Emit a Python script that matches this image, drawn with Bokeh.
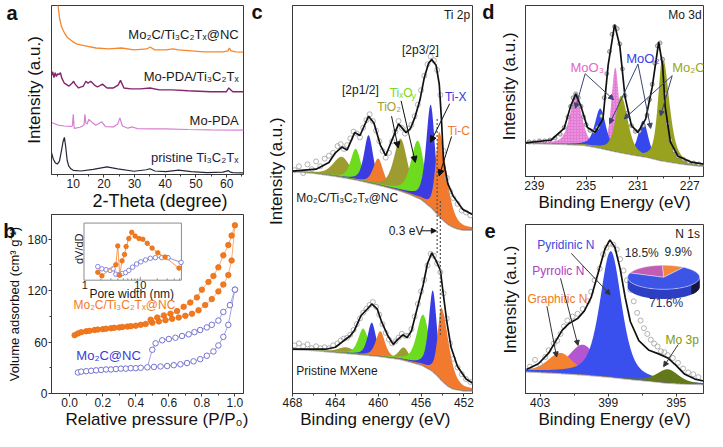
import math
import numpy as np
from bokeh.plotting import figure
from bokeh.layouts import row, column
from bokeh.models import (Label, Arrow, NormalHead, Range1d, FixedTicker, LinearAxis,
                          LogScale, PrintfTickFormatter)
from bokeh.embed import file_html
from bokeh.resources import INLINE

FONT = "Liberation Sans"
NB = "\u00a0"

# ---------------- panel a : XRD (2-theta, offset intensity) ----------------
a_tt_nc = [4.6, 5.2, 5.6, 6.2, 7.1, 8.1, 9.7, 11.2, 14.3, 17.4, 21.6, 25.7, 29.8, 34.0, 35.0, 36.6,
           40.2, 42.5, 44.3, 48.5, 52.6, 58.8, 60.4, 60.9, 61.4, 63.0, 65.5]
a_nc = [190, 173, 163, 155, 149, 144, 140, 137, 135, 133, 132, 133, 131, 132, 134, 131,
        131, 132, 131, 130, 129, 129, 130, 133, 130, 129, 128.7]
a_tt_mp = [2.9, 3.3, 3.7, 4.1, 4.5, 4.9, 5.3, 5.8, 6.3, 7.1, 8.6, 9.6, 10.1, 10.6, 11.7, 13.3, 14.1,
           14.8, 15.7, 16.9, 17.9, 19.5, 21.0, 23.1, 24.6, 25.4, 26.5, 28.8, 31.9, 35.0, 38.1, 42.3,
           47.4, 54.7, 59.9, 60.7, 62.0, 65.5]
a_mp = [104, 108, 102, 107, 103, 106, 105, 107, 101, 96, 93, 96, 98, 95, 91, 93, 98,
        96, 98, 94, 92, 95, 91, 91, 94, 99, 91, 90, 90, 91, 89, 89,
        88, 87, 87, 91, 87, 87]
a_tt_pda = [2.9, 5.0, 7.1, 9.1, 9.7, 10.0, 10.3, 12.2, 13.0, 13.5, 13.8, 14.1, 14.5, 15.1, 16.2, 17.4,
            19.3, 20.5, 23.1, 24.5, 25.2, 26.0, 27.8, 29.3, 30.9, 35.0, 40.0, 47.4, 54.7, 65.5]
a_pda = [54.7, 52, 51, 50.5, 51, 63.3, 48.5, 49.7, 51, 52, 63.3, 54, 53, 58, 54.5, 51.7,
         55.4, 50.3, 50, 53, 59.5, 51, 48.7, 50, 48.3, 48, 48, 47.3, 47, 46.7]
a_tt_ti = [2.9, 3.5, 4.2, 4.8, 5.5, 6.2, 6.7, 7.1, 7.5, 8.0, 8.5, 9.2, 10.0, 12.5, 16.5, 21.0, 24.5,
           29.8, 33.8, 35.0, 36.6, 40.2, 44.3, 48.5, 53.6, 58.8, 60.6, 61.2, 62.0, 65.5]
a_ti = [23, 16, 12, 11, 14, 26, 35, 39, 30, 15, 9, 6, 4.4, 3.7, 5.4, 8, 6,
        3.4, 5, 6, 3.7, 3, 4.5, 3, 2, 2.5, 4, 2.5, 2, 1.7]
a_names = ["Mo\u2082C/Ti\u2083C\u2082T\u2093@NC", "Mo-PDA/Ti\u2083C\u2082T\u2093", "Mo-PDA",
           "pristine Ti\u2083C\u2082T\u2093"]
a_ticks = [10, 20, 30, 40, 50, 60]

# ---------------- panel b : N2 isotherms + inset PSD ----------------
b_p_ads_or = [0.03, 0.05, 0.07, 0.10, 0.12, 0.15, 0.17, 0.20, 0.22, 0.25, 0.27, 0.30, 0.32, 0.35, 0.37,
              0.40, 0.43, 0.46, 0.50, 0.54, 0.58, 0.62, 0.66, 0.70, 0.74, 0.78, 0.82, 0.86, 0.90, 0.93,
              0.96, 0.98, 1.0]
b_v_ads_or = [68, 70, 71.5, 72.5, 73, 74, 74.5, 75, 75.5, 76, 76.5, 77, 77.5, 78, 78.5,
              79, 80, 81, 82.5, 84, 85.5, 87, 88.5, 90.5, 93, 97, 103, 110, 119, 127,
              138, 155, 196]
b_p_des_or = [1.0, 0.98, 0.96, 0.93, 0.90, 0.87, 0.84, 0.80, 0.77, 0.73, 0.69, 0.65, 0.61, 0.57, 0.53,
              0.49, 0.46]
b_v_des_or = [196, 184, 173, 161, 147, 137, 130, 121, 112, 106, 101, 96, 93, 91, 88.5, 86, 82]
b_p_ads_bl = [0.05, 0.07, 0.10, 0.13, 0.16, 0.19, 0.22, 0.25, 0.28, 0.31, 0.34, 0.37, 0.40, 0.43, 0.47,
              0.51, 0.55, 0.59, 0.63, 0.67, 0.71, 0.75, 0.79, 0.83, 0.87, 0.90, 0.93, 0.96, 1.0]
b_v_ads_bl = [24.5, 25.5, 26, 26.5, 27, 27.5, 28, 28, 28.5, 29, 29, 29.5, 29.5, 30, 30.5,
              31, 31.5, 32, 33, 34, 35.5, 37.5, 40, 44, 49, 56, 66, 80, 121]
b_p_des_bl = [1.0, 0.97, 0.93, 0.90, 0.86, 0.83, 0.79, 0.755, 0.72, 0.68, 0.64, 0.60, 0.56, 0.52, 0.50, 0.47]
b_v_des_bl = [121, 103, 95, 85, 80, 77, 74, 71.5, 69, 67, 65, 63.5, 62, 58.5, 51, 30.5]
in_or_d = [1.76, 2.08, 3.68, 3.98, 4.31, 4.74, 5.25, 5.6, 6.25, 7.05, 8.1, 9.5, 11.1, 13.3, 16.2, 20.5, 27.5, 48.6]
in_or_v = [8.3, 4.7, 16.3, 36, 5.3, 20.3, 27, 35.3, 43.7, 50.3, 46.3, 43.7, 43, 38.7, 33.7, 28.7, 24.3, 12.7]
in_bl_d = [1.76, 2.08, 2.47, 2.9, 3.3, 3.68, 4.2, 4.8, 5.5, 6.25, 7.3, 8.6, 10.2, 12.4, 15.1, 18.5, 24, 31, 53]
in_bl_v = [14.3, 12, 11, 10.3, 12, 6.3, 5.7, 7, 8, 10.3, 13.7, 17, 19.3, 21.3, 23, 23.7, 23.7, 23.7, 18.7]
b_xticks = [0.0, 0.2, 0.4, 0.6, 0.8, 1.0]
b_yticks = [0, 60, 120, 180]

# ---------------- panel c : Ti 2p XPS ----------------
c_bg_be = [468, 466, 464, 462, 460, 459, 458, 457, 456, 455, 454.5, 454, 453.5, 453, 452.5, 452, 451.2]
c_bg_top = [231, 229, 226, 222, 217, 214, 211, 207, 202, 193, 187, 181, 176, 173, 171, 170, 170]
c_bg_bot = [46, 45, 43, 41, 39, 37.5, 36, 33, 30, 24, 19, 13, 8, 5, 4, 3, 3]
c_env_top_be = [468.0, 465.8, 464.6, 464.0, 463.4, 462.9, 462.2, 461.7, 460.9, 460.4, 459.8, 459.3, 458.8,
                458.1, 457.4, 457.0, 456.6, 456.1, 455.7, 455.3, 455.0, 454.6, 454.3, 454.1, 453.9, 453.5,
                453.0, 452.1, 451.2]
c_env_top = [231, 233, 240, 250, 256, 253, 271, 268, 288, 281, 258, 247, 261,
             280, 271, 275, 286, 305, 328, 343, 347, 341, 321, 285, 241, 218,
             205, 191, 186]
c_env_bot_be = [468, 464.9, 464.0, 463.2, 462.6, 462.2, 461.6, 461.0, 460.6, 460.1, 459.7, 459.1, 458.6,
                458.2, 457.7, 457.3, 456.9, 456.3, 455.8, 455.4, 455.0, 454.6, 454.2, 453.9, 453.6, 453.2,
                452.6, 451.8, 451.2]
c_env_bot = [46, 46, 48, 55, 60, 66, 81, 88, 93, 88, 75, 60, 51,
             56, 61, 58, 65, 91, 113, 135, 146, 138, 128, 101, 75, 48,
             28, 15, 11]
c_pts_be = [467.8, 467.4, 467.0, 466.6, 466.2, 465.8, 465.4, 465.0, 464.6, 464.2, 463.8, 463.5, 463.2,
            462.9, 462.6, 462.3, 462.0, 461.7, 461.4, 461.1, 460.8, 460.5, 460.2, 459.9, 459.6, 459.3,
            459.0, 458.7, 458.4, 458.1, 457.8, 457.5, 457.2, 456.9, 456.6, 456.3, 456.0, 455.7, 455.4,
            455.1, 454.8, 454.5, 454.2, 453.9, 453.6, 453.3, 453.0, 452.6, 452.2, 451.8, 451.4]
c_pts_top = [232, 236, 229, 238, 233, 241, 236, 244, 247, 250, 257, 259, 254,
             258, 265, 272, 270, 266, 276, 284, 290, 283, 273, 262, 252, 245,
             250, 262, 272, 283, 276, 270, 275, 279, 288, 300, 315, 330, 342,
             350, 346, 336, 310, 252, 224, 210, 203, 197, 190, 188, 185]
c_pts_bot = [50, 52, 49, 51, 47, 49, 47, 48, 47, 50, 52, 55, 57,
             58, 61, 66, 72, 78, 84, 88, 92, 95, 90, 82, 72, 63,
             56, 52, 54, 58, 62, 60, 60, 67, 80, 93, 106, 118, 133,
             145, 143, 135, 126, 104, 78, 52, 36, 27, 20, 15, 12]
c_top_cen = [463.4, 462.1, 460.9, 460.0, 457.9, 456.3, 455.1, 454.3]
c_top_h = [21, 32, 49, 27, 54, 59, 106, 87]
c_top_wl = [1.9, 1.1, 1.0, 1.1, 1.5, 1.5, 1.0, 0.8]
c_top_wr = [1.9, 1.1, 1.0, 1.1, 1.5, 1.5, 1.0, 1.6]
c_bot_cen = [463.0, 461.4, 460.6, 459.8, 457.6, 455.8, 454.9, 454.1]
c_bot_h = [6, 27, 34, 26, 13, 53, 84, 75]
c_bot_wl = [1.8, 1.1, 0.9, 1.0, 1.1, 1.4, 0.9, 0.8]
c_bot_wr = [1.8, 1.1, 0.9, 1.0, 1.1, 1.4, 0.9, 1.6]
c_ticks = [468, 464, 460, 456, 452]

# ---------------- panel d : Mo 3d XPS ----------------
d_bg_be = [239.68, 237, 235.2, 234, 232.7, 231.5, 230.2, 229.3, 228.4, 227.5, 226.1, 225.94]
d_bg = [35, 34, 33, 30, 26, 23, 20, 17, 15, 13, 11, 11]
d_env_be = [239.65, 237.7, 236.7, 236.2, 235.8, 235.4, 234.9, 234.3, 233.7, 233.3, 232.8, 232.4, 232.0,
            231.5, 231.0, 230.4, 229.9, 229.4, 229.1, 228.9, 228.5, 227.9, 226.9, 225.94]
d_env = [35, 38, 50, 73, 86, 73, 51, 46, 60, 116, 158, 136, 83,
         53, 46, 60, 93, 140, 116, 73, 36, 21, 15, 13]
d_pts_be = [239.4, 239.0, 238.6, 238.2, 237.8, 237.4, 237.0, 236.7, 236.4, 236.2, 236.0, 235.8, 235.6,
            235.4, 235.2, 235.0, 234.7, 234.4, 234.1, 233.8, 233.6, 233.4, 233.2, 233.0, 232.8, 232.6,
            232.4, 232.2, 232.0, 231.8, 231.5, 231.2, 230.9, 230.6, 230.3, 230.1, 229.9, 229.7, 229.5,
            229.3, 229.1, 228.9, 228.7, 228.5, 228.2, 227.9, 227.5, 227.1, 226.7, 226.3]
d_pts = [36, 36, 37, 37, 38, 40, 44, 51, 62, 73, 82, 86, 82,
         73, 62, 54, 48, 47, 51, 63, 82, 107, 130, 148, 156, 154,
         138, 112, 84, 66, 53, 47, 47, 53, 64, 80, 96, 118, 136,
         139, 122, 86, 55, 38, 27, 21, 18, 15, 14, 13]
d_cen = [235.8, 232.75, 233.9, 230.6, 232.3, 229.1]
d_h = [50, 87, 41, 37, 59, 108]
d_wl = [1.1, 0.7, 1.0, 0.9, 1.0, 0.8]
d_wr = [1.1, 0.7, 1.0, 0.9, 1.2, 1.2]
d_ticks = [239, 235, 231, 227]

# ---------------- panel e : N 1s XPS + pie ----------------
e_bg_be = [403.86, 402, 400.4, 399, 397.5, 396.5, 395.6, 394.5, 393.4]
e_bg = [23, 21.5, 19.7, 17.5, 14.7, 13, 11.3, 10.3, 9.7]
e_env_be = [403.8, 403.1, 402.5, 401.7, 401.3, 400.8, 400.4, 400.0, 399.6, 399.2, 398.9, 398.6, 398.3,
            398.0, 397.7, 397.2, 396.6, 396.0, 395.5, 395.0, 394.5, 393.9, 393.4]
e_env = [25, 31, 42, 66, 73, 78, 86, 100, 125, 150, 160, 152, 130,
         100, 75, 55, 45, 41, 37, 29, 20, 15, 13]
e_pts_be = [403.6, 403.3, 403.0, 402.7, 402.5, 402.2, 402.0, 401.8, 401.6, 401.4, 401.1, 400.8, 400.5,
            400.2, 400.0, 399.8, 399.5, 399.3, 399.1, 398.9, 398.7, 398.5, 398.3, 398.1, 397.9, 397.7,
            397.5, 397.3, 397.1, 396.9, 396.7, 396.5, 396.3, 396.1, 395.9, 395.7, 395.5, 395.2, 394.9,
            394.6, 394.3, 394.0, 393.7]
e_pts = [28, 35, 30, 38, 45, 52, 55, 62, 70, 76, 80, 83, 88,
         96, 106, 118, 130, 145, 152, 156, 155, 150, 140, 128, 118, 108,
         96, 84, 76, 68, 62, 56, 52, 49, 44, 43, 40, 37, 32,
         26, 22, 20, 17]
e_cen = [400.5, 401.8, 398.85, 395.5]
e_h = [31, 21, 131, 14]
e_w = [2.0, 1.8, 1.5, 1.5]
e_ticks = [403, 399, 395]
pie_vals = [9.9, 18.5, 71.6]
pie_text = ["9.9%", "18.5%", "71.6%"]

# ---------------- colours ----------------
OLIVE, GREEN, BLUE, ORANGE = "#9C9C30", "#6EDC1E", "#3B3BE4", "#F27A2E"
PINK, MBLUE, MOLIVE = "#E27AD6", "#3548EE", "#98A21E"
PURPLE, NBLUE, NORANGE, NOLIVE = "#B456D2", "#3A50EE", "#F5822E", "#62781A"


# ---------------- helpers ----------------
def mkfig(w, h, bl, br, bt, bb, xr, yr):
    p = figure(width=w, height=h, x_range=Range1d(*xr), y_range=Range1d(*yr),
               output_backend="svg", toolbar_location=None,
               min_border_left=bl, min_border_right=br, min_border_top=bt, min_border_bottom=bb)
    p.xgrid.visible = False
    p.ygrid.visible = False
    p.outline_line_color = "#3a3a3a"
    p.outline_line_width = 1
    for ax in (p.xaxis[0], p.yaxis[0]):
        ax.axis_line_color = "#3a3a3a"
        ax.major_tick_line_color = "#3a3a3a"
        ax.minor_tick_line_color = "#3a3a3a"
        ax.major_tick_in = 0
        ax.major_tick_out = 3
        ax.minor_tick_in = 0
        ax.minor_tick_out = 2
        ax.major_label_text_font = FONT
        ax.major_label_text_font_size = "12px"
        ax.major_label_text_color = "#1a1a1a"
        ax.major_label_standoff = 1
        ax.axis_label_text_font = FONT
        ax.axis_label_text_font_style = "normal"
        ax.axis_label_text_color = "#111111"
    p.xaxis.axis_label_standoff = 0
    yax = p.yaxis[0]
    yax.ticker = FixedTicker(ticks=[])
    yax.major_tick_out = 0
    yax.minor_tick_out = 0
    yax.major_label_standoff = 0
    return p


def titles(p, xt, yt, xsize=17, ysize=17, ystand=6):
    p.xaxis.axis_label = xt
    p.xaxis.axis_label_text_font_size = f"{xsize}px"
    p.yaxis.axis_label = yt
    p.yaxis.axis_label_text_font_size = f"{ysize}px"
    p.yaxis.axis_label_standoff = ystand


def letter(p, yv, s, standoff):
    ax = LinearAxis(ticker=FixedTicker(ticks=[yv]), major_label_overrides={yv: s},
                    axis_line_color=None, major_tick_line_color=None, minor_tick_line_color=None,
                    major_tick_in=0, major_tick_out=0, minor_tick_in=0, minor_tick_out=0,
                    major_label_standoff=standoff, major_label_text_font=FONT,
                    major_label_text_font_size="20px", major_label_text_font_style="bold",
                    major_label_text_color="#111111")
    p.add_layout(ax, "left")


def frame_map(rx0, rx1, ry0, ry1, xr, yr):
    def f(rx, ry):
        x = xr[0] + (rx - rx0) / (rx1 - rx0) * (xr[1] - xr[0])
        y = yr[1] - (ry - ry0) / (ry1 - ry0) * (yr[1] - yr[0])
        return x, y
    return f


def put(p, F, rx, ry, s, size=12, color="#1a1a1a", align="left", angle=0.0, bold=False):
    x, y = F(rx, ry)
    p.add_layout(Label(x=x, y=y, text=s, text_font=FONT, text_font_size=f"{size}px",
                       text_color=color, text_align=align, text_baseline="middle",
                       angle=angle, text_font_style="bold" if bold else "normal"))


def arrow(p, F, r0, r1, color="#111111", head=6):
    x0, y0 = F(*r0)
    x1, y1 = F(*r1)
    p.add_layout(Arrow(x_start=x0, y_start=y0, x_end=x1, y_end=y1, line_color=color, line_width=1,
                       end=NormalHead(size=head, fill_color=color, line_color=color)))


def interp(x, xp, fp):
    xp = np.asarray(xp, float)
    fp = np.asarray(fp, float)
    o = np.argsort(xp)
    return np.interp(x, xp[o], fp[o])


def peak(x, c, h, wl, wr):
    w = np.where(x >= c, wl, wr)
    d = (x - c) / w
    return h * (0.5 * np.exp(-4 * np.log(2) * d * d) + 0.5 / (1 + 4 * d * d))


def spectrum(p, xg, bg_be, bg, cen, hts, wl, wr, cols, pts_be, pts, env_be, env,
             pt_style=None, hatch=None):
    base = interp(xg, bg_be, bg)
    p.line(bg_be, bg, line_color="#b4b4b4", line_width=2.2)
    for i, (c, h, a, b, col) in enumerate(zip(cen, hts, wl, wr, cols)):
        kw = {}
        if hatch and hatch[i]:
            kw = dict(hatch_pattern=".", hatch_color="#f4b3ea", hatch_scale=3, hatch_weight=1)
        p.varea(x=xg, y1=base, y2=base + peak(xg, c, h, a, b), fill_color=col, fill_alpha=1, **kw)
    st = dict(size=5, fill_color=None, line_color="#a0a0a0", line_width=0.8)
    if pt_style:
        st.update(pt_style)
    p.scatter(pts_be, pts, marker="circle", **st)
    p.line(env_be, env, line_color="#111111", line_width=1.7)


# ================= panel a =================
A_XR, A_YR = (2.9, 65.5), (0, 177.7)
fa = mkfig(248, 213, 47, 5, 5, 37, A_XR, A_YR)
Fa = frame_map(48, 248, 5, 182.7, A_XR, A_YR)
fa.xaxis.ticker = FixedTicker(ticks=a_ticks, minor_ticks=[5, 15, 25, 35, 45, 55, 65])
titles(fa, NB * 5 + "2-Theta (degree)", "Intensity (a.u.)", xsize=18, ystand=8)
letter(fa, 173, "a", 4)
fa.line(a_tt_ti, a_ti, line_color="#26263a", line_width=1.2)
fa.line(a_tt_pda, a_pda, line_color="#d77fd2", line_width=1.2)
fa.line(a_tt_mp, a_mp, line_color="#86256e", line_width=1.4)
fa.line(a_tt_nc, a_nc, line_color="#f5872f", line_width=1.3)
put(fa, Fa, 243, 35, a_names[0], 13, align="right")
put(fa, Fa, 243, 80, a_names[1], 13, align="right")
put(fa, Fa, 243, 126, a_names[2], 13, align="right")
put(fa, Fa, 243, 165, a_names[3], 13, color="#1c1c48", align="right")

# ================= panel b =================
B_XR, B_YR = (-0.11, 1.052), (0, 208.6)
fb = mkfig(248, 218, 46, 5, 1, 37, B_XR, B_YR)
Fb = frame_map(47, 248, 220, 408, B_XR, B_YR)
fb.xaxis.ticker = FixedTicker(ticks=b_xticks, minor_ticks=[0.1, 0.3, 0.5, 0.7, 0.9])
fb.xaxis.formatter = PrintfTickFormatter(format="%.1f")
fb.yaxis.ticker = FixedTicker(ticks=b_yticks, minor_ticks=[30, 90, 150])
fb.yaxis.major_tick_out = 3
fb.yaxis.minor_tick_out = 2
fb.yaxis.major_label_standoff = 1
titles(fb, NB * 4 + "Relative pressure (P/P\u2080)", "Volume adsorbed (cm\u00b3 g\u207b\u00b9)",
       ysize=13, ystand=2)
letter(fb, 204, "b", -11)
# inset coordinate system (log pore width / dV/dD) mapped into the upper-left part of the frame
fb.extra_x_ranges = {"ix": Range1d(0.265, 680)}
fb.extra_x_scales = {"ix": LogScale()}
fb.extra_y_ranges = {"iy": Range1d(-119, 69)}
IN = dict(x_range_name="ix", y_range_name="iy")

fb.line(b_p_ads_bl, b_v_ads_bl, line_color="#a4a4e6", line_width=1)
fb.line(b_p_des_bl, b_v_des_bl, line_color="#a4a4e6", line_width=1)
fb.scatter(b_p_ads_bl, b_v_ads_bl, marker="circle", size=5.5, fill_color="white",
           line_color="#7474d2", line_width=1)
fb.scatter(b_p_des_bl[:-1], b_v_des_bl[:-1], marker="circle", size=5.5, fill_color="white",
           line_color="#7474d2", line_width=1)
fb.line(b_p_ads_or, b_v_ads_or, line_color="#f8ad78", line_width=1)
fb.line(b_p_des_or, b_v_des_or, line_color="#f8ad78", line_width=1)
fb.scatter(b_p_ads_or, b_v_ads_or, marker="circle", size=5.5, fill_color="#f27a1e",
           line_color="#e86c14", line_width=0.8)
fb.scatter(b_p_des_or[1:-1], b_v_des_or[1:-1], marker="circle", size=5.5, fill_color="#f27a1e",
           line_color="#e86c14", line_width=0.8)

fb.quad(left=1, right=53.7, bottom=0, top=60, fill_color="white", line_color="#8c8c8c",
        line_width=1, **IN)
minor_d = [2, 3, 4, 5, 6, 7, 8, 9, 20, 30, 40, 50]
fb.segment(x0=minor_d, y0=[0] * len(minor_d), x1=minor_d, y1=[2] * len(minor_d),
           line_color="#777777", line_width=0.8, **IN)
fb.segment(x0=[10], y0=[0], x1=[10], y1=[3.5], line_color="#777777", line_width=0.8, **IN)
fb.line(in_bl_d, in_bl_v, line_color="#8e8ee0", line_width=1, **IN)
fb.scatter(in_bl_d, in_bl_v, marker="circle", size=4.5, fill_color="white",
           line_color="#7a7ad8", line_width=0.9, **IN)
fb.line(in_or_d, in_or_v, line_color="#f59a58", line_width=1, **IN)
fb.scatter(in_or_d, in_or_v, marker="circle", size=4.5, fill_color="#f27a1e",
           line_color="#e86c14", line_width=0.8, **IN)
put(fb, Fb, 82, 294, "1", 11, align="center")
put(fb, Fb, 140, 294, "10", 11, align="center")
put(fb, Fb, 131, 304, "Pore width (nm)", 12, align="center")
put(fb, Fb, 75.5, 256, "dV/dD", 11, align="center", angle=math.pi / 2)
put(fb, Fb, 70, 315, "Mo\u2082C/Ti\u2083C\u2082T\u2093@NC", 12, color="#f27a1e")
put(fb, Fb, 73, 368, "Mo\u2082C@NC", 13, color="#3b3bd6")

# ================= panel c =================
C_XR, C_YR = (468, 451.2), (0, 403)
fc = mkfig(229, 431, 39, 5, 5, 38, C_XR, C_YR)
Fc = frame_map(293, 482, 5, 408, C_XR, C_YR)
fc.xaxis.ticker = FixedTicker(ticks=c_ticks, minor_ticks=[466, 462, 458, 454])
titles(fc, "Binding energy (eV)" + NB * 3, NB * 12 + "Intensity (a.u.)", ystand=7)
letter(fc, 397, "c", 1)
xg_c = np.linspace(468, 451.2, 700)
c_cols = [OLIVE, GREEN, BLUE, ORANGE, OLIVE, GREEN, BLUE, ORANGE]
spectrum(fc, xg_c, c_bg_be, c_bg_top, c_top_cen, c_top_h, c_top_wl, c_top_wr, c_cols,
         c_pts_be, c_pts_top, c_env_top_be, c_env_top)
spectrum(fc, xg_c, c_bg_be, c_bg_bot, c_bot_cen, c_bot_h, c_bot_wl, c_bot_wr, c_cols,
         c_pts_be, c_pts_bot, c_env_bot_be, c_env_bot)
fc.segment(x0=[454.5, 454.2], y0=[285, 200], x1=[454.5, 454.2], y1=[145, 60],
           line_color="#555555", line_width=1.2, line_dash="2 2")
put(fc, Fc, 452, 15, "Ti 2p", 12)
put(fc, Fc, 408, 51, "[2p3/2]", 12)
put(fc, Fc, 345, 93, "[2p1/2]", 12)
put(fc, Fc, 382, 110, "TiO\u2082", 12, color="#a0a032")
put(fc, Fc, 395, 96, "Ti\u2093O", 12, color="#7cd820")
put(fc, Fc, 418, 99, "y", 9, color="#7cd820")
put(fc, Fc, 453, 100, "Ti-X", 12, color="#3434e0")
put(fc, Fc, 456, 135, "Ti-C", 12, color="#f07a30")
put(fc, Fc, 297, 205, "Mo\u2082C/Ti\u2083C\u2082T\u2093@NC", 12)
put(fc, Fc, 297, 385, "Pristine MXene", 12)
put(fc, Fc, 394, 239, "0.3 eV", 12)
arrow(fc, Fc, (397, 120), (404, 153))
arrow(fc, Fc, (407, 104), (422, 168))
arrow(fc, Fc, (458, 107), (438, 147))
arrow(fc, Fc, (460, 141), (447, 182))
arrow(fc, Fc, (428, 239), (444, 239), head=5)

# ================= panel d =================
D_XR, D_YR = (239.68, 225.94), (0, 178)
fd = mkfig(230, 215, 48, 4, 5, 39, D_XR, D_YR)
Fd = frame_map(537, 719, 5, 183, D_XR, D_YR)
fd.xaxis.ticker = FixedTicker(ticks=d_ticks, minor_ticks=[237, 233, 229])
titles(fd, "Binding Energy (eV)", NB * 2 + "Intensity (a.u.)", ystand=7)
letter(fd, 172, "d", 2)
xg_d = np.linspace(239.68, 225.94, 600)
spectrum(fd, xg_d, d_bg_be, d_bg, d_cen, d_h, d_wl, d_wr,
         [PINK, PINK, MBLUE, MBLUE, MOLIVE, MOLIVE], d_pts_be, d_pts, d_env_be, d_env,
         pt_style=dict(size=4, fill_color="#d6d6d6", line_color="#6e6e6e", line_width=0.7),
         hatch=[True, True, False, False, False, False])
put(fd, Fd, 683, 15, "Mo 3d", 12)
put(fd, Fd, 583, 70, "MoO\u2083", 13, color="#e066c8")
put(fd, Fd, 640, 60, "MoO\u2082", 13, color="#3a3af0")
put(fd, Fd, 687, 70, "Mo\u2082C", 13, color="#9aa820")
AC = "#3a4670"
arrow(fd, Fd, (598, 76), (588, 112), AC, 5)
arrow(fd, Fd, (598, 76), (627, 103), AC, 5)
arrow(fd, Fd, (652, 66), (623, 128), AC, 5)
arrow(fd, Fd, (652, 66), (665, 133), AC, 5)
arrow(fd, Fd, (687, 78), (638, 123), AC, 5)
arrow(fd, Fd, (687, 78), (675, 120), AC, 5)

# ================= panel e =================
E_XR, E_YR = (403.86, 393.4), (0, 176)
fe = mkfig(230, 216, 47, 4, 9, 38, E_XR, E_YR)
Fe = frame_map(536, 719, 232, 408, E_XR, E_YR)
fe.xaxis.ticker = FixedTicker(ticks=e_ticks, minor_ticks=[401, 397])
titles(fe, "Binding Energy (eV)", NB * 4 + "Intensity (a.u.)", ystand=6)
letter(fe, 169, "e", 2)
xg_e = np.linspace(403.86, 393.4, 600)
spectrum(fe, xg_e, e_bg_be, e_bg, e_cen, e_h, e_w, e_w,
         [PURPLE, NORANGE, NBLUE, NOLIVE], e_pts_be, e_pts, e_env_be, e_env)
# 3-D pie of the N species fractions
cx, cy = Fe(678, 287)
rx = 37.0 / 183 * (E_XR[0] - E_XR[1])
ry, depth = 12.5, 10.0


def ell(t):
    return cx - rx * np.cos(t), cy + ry * np.sin(t)


ts = np.linspace(math.pi, 2 * math.pi, 80)
ex, ey = ell(ts)
fe.patch(list(ex) + list(ex[::-1]), list(ey) + list((ey - depth)[::-1]), fill_color="#2c3fc4",
         line_color=None)
ts2 = np.linspace(1.78 * math.pi, 2 * math.pi, 30)
ex2, ey2 = ell(ts2)
fe.patch(list(ex2) + list(ex2[::-1]), list(ey2) + list((ey2 - depth)[::-1]), fill_color="#17173e",
         line_color=None)
ang0 = math.radians(56.4)
pie_cols = ["#f2873a", "#c25db4", "#3d55e6"]
a0 = ang0
for v, col in zip(pie_vals, pie_cols):
    a1 = a0 + v / 100 * 2 * math.pi
    tt = np.linspace(a0, a1, 60)
    px, py = ell(tt)
    fe.patch([cx] + list(px), [cy] + list(py), fill_color=col, line_color="#e8e8f4", line_width=0.5)
    a0 = a1
put(fe, Fe, 638, 262, pie_text[1], 12, color="#2a2a2a")
put(fe, Fe, 679, 261, pie_text[0], 12, color="#2a2a2a")
put(fe, Fe, 663, 314, pie_text[2], 12, color="#2a2a6a")
put(fe, Fe, 690, 242, "N 1s", 12)
put(fe, Fe, 548, 253, "Pyridinic N", 12, color="#3a4adf")
put(fe, Fe, 543, 280, "Pyrrolic N", 12, color="#b040c0")
put(fe, Fe, 538, 310, "Graphitic N", 12, color="#f07a20")
put(fe, Fe, 680, 352, "Mo 3p", 12, color="#7a9a10")
arrow(fe, Fe, (583, 262), (623, 305), "#333333", 5)
arrow(fe, Fe, (572, 288), (590, 358), "#333333", 5)
arrow(fe, Fe, (558, 317), (568, 370), "#333333", 5)
arrow(fe, Fe, (693, 357), (678, 380), "#333333", 5)

layout = row(column(fa, fb), fc, column(fd, fe))
open("out.html", "w").write(file_html(layout, INLINE))
